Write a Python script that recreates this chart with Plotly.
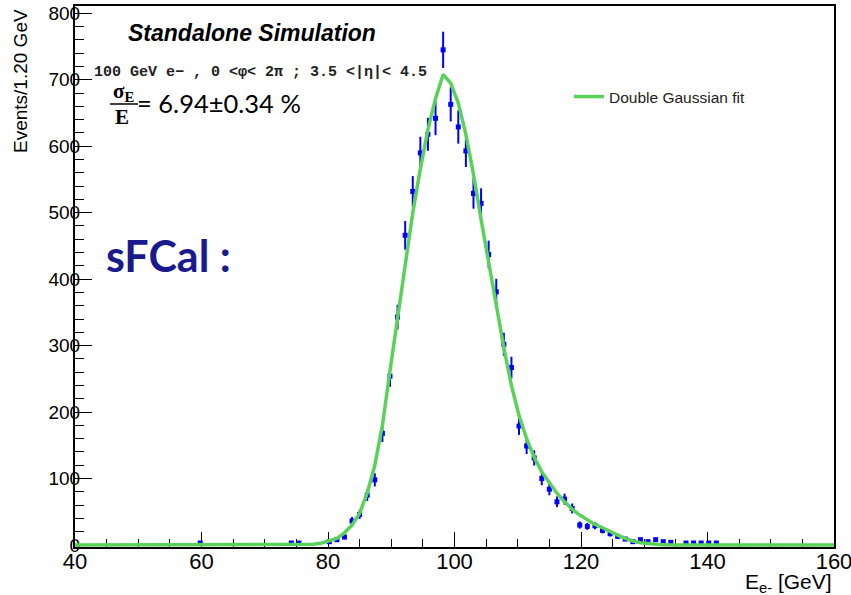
import numpy as np
import plotly.graph_objects as go

# ---------------- data ----------------
bin_centers = [59.8, 74.2, 75.4, 80.2, 81.4, 82.6, 83.8, 85.0, 86.2, 87.4, 88.6, 89.8,
               91.0, 92.2, 93.4, 94.6, 95.8, 97.0, 98.2, 99.4, 100.6, 101.8, 103.0,
               104.2, 105.4, 106.6, 107.8, 109.0, 110.2, 111.4, 112.6, 113.8, 115.0,
               116.2, 117.4, 118.6, 119.8, 121.0, 122.2, 123.4, 124.6, 125.8, 127.0,
               128.2, 129.4, 130.6, 131.8, 133.0, 134.2, 136.6, 137.8, 139.0, 140.2, 141.4]
counts = [3, 3, 3, 5, 8, 12, 36, 46, 75, 98, 168, 254,
          343, 466, 532, 590, 618, 642, 745, 663, 629, 593, 529,
          514, 437, 381, 302, 267, 179, 149, 131, 100, 84,
          65, 69, 55, 30, 28, 29, 22, 17, 13, 9,
          5, 8, 5, 8, 5, 4, 3, 3, 3, 3, 3]

fit_x = [40.0, 76.6, 77.8, 79.0, 80.2, 81.4, 82.6, 83.8, 85.0, 86.2, 87.4, 88.6, 89.8,
         91.0, 92.2, 93.4, 94.6, 95.8, 97.0, 98.2, 99.4, 100.6, 101.8, 103.0, 104.2,
         105.4, 106.6, 107.8, 109.0, 110.2, 111.4, 112.6, 113.8, 115.0, 116.2, 117.4,
         118.6, 119.8, 121.0, 122.2, 123.4, 124.6, 125.8, 127.0, 128.2, 129.4, 130.6,
         131.8, 133.0, 134.2, 160.0]
fit_y = [0, 0, 1, 3, 6, 10, 18, 30, 48, 78, 120, 180, 262,
         342, 425, 500, 566, 625, 672, 708, 695, 665, 618, 558, 490,
         425, 362, 297, 240, 195, 160, 132, 110, 94, 78, 65,
         54, 45, 38, 31, 26, 20, 15, 10, 6, 3.5, 2,
         1, 0.5, 0, 0]

x_ticks = [40, 60, 80, 100, 120, 140, 160]
y_ticks = [0, 100, 200, 300, 400, 500, 600, 700, 800]

# ---------------- layout geometry ----------------
W, H = 851, 595
L, R, T, B = 75, 17, 6, 48
PW, PH = W - L - R, H - T - B


def fx(p):
    return (p - L) / PW


def fy(p):
    return (H - B - p) / PH


BLUE = "#0000ff"
GREEN = "#5ad25a"
SANS = "Liberation Sans, Arial, sans-serif"

fig = go.Figure()
fig.add_trace(go.Scatter(
    x=bin_centers, y=counts, mode="markers",
    marker=dict(symbol="square", size=5, color=BLUE),
    error_y=dict(type="data", array=np.sqrt(np.array(counts, dtype=float)),
                 thickness=2, width=0, color=BLUE),
    showlegend=False, cliponaxis=True, hoverinfo="skip"))
fig.add_trace(go.Scatter(
    x=fit_x, y=fit_y, mode="lines", name="Double Gaussian fit",
    line=dict(color=GREEN, width=3.5), hoverinfo="skip"))

axis_common = dict(showgrid=False, zeroline=False, showline=True, linecolor="black",
                   linewidth=2, mirror=True, ticks="inside", tickcolor="black",
                   tickwidth=1, layer="below traces", automargin=False)

fig.update_xaxes(range=[40, 160], tickvals=x_ticks, ticklen=15, ticklabelstandoff=-6,
                 ticklabeloverflow="allow",
                 tickfont=dict(family=SANS, size=22, color="black"),
                 minor=dict(dtick=5, tick0=40, ticks="inside", ticklen=8, tickcolor="black"),
                 **axis_common)
fig.update_yaxes(range=[-3, 811], tickvals=y_ticks, ticklen=17, ticklabelstandoff=-11,
                 tickfont=dict(family=SANS, size=19, color="black"),
                 minor=dict(dtick=20, tick0=0, ticks="inside", ticklen=9, tickcolor="black"),
                 **axis_common)

ann = []
ann.append(dict(text="<b><i>Standalone Simulation</i></b>", x=fx(126), y=fy(33),
                xanchor="left", yanchor="middle",
                font=dict(family=SANS, size=23, color="black")))
ann.append(dict(text="<b>100 GeV e− , 0 <φ< 2π ; 3.5 <|η|< 4.5</b>", x=fx(92), y=fy(72),
                xanchor="left", yanchor="middle",
                font=dict(family="Liberation Mono, monospace", size=15, color="#222222")))
ann.append(dict(text="<b>σ<sub>E</sub></b>", x=fx(123), y=fy(92),
                xanchor="center", yanchor="middle",
                font=dict(family="Liberation Serif, serif", size=21, color="black")))
ann.append(dict(text="<b>E</b>", x=fx(122), y=fy(117),
                xanchor="center", yanchor="middle",
                font=dict(family="Liberation Serif, serif", size=21, color="black")))
ann.append(dict(text="= 6.94±0.34 %", x=fx(135), y=fy(103),
                xanchor="left", yanchor="middle",
                font=dict(family="Lato, sans-serif", size=25.5, color="black")))
ann.append(dict(text="<b>sFCal :</b>", x=fx(104), y=fy(255),
                xanchor="left", yanchor="middle",
                font=dict(family="Lato, sans-serif", size=43, color="#1a1a8c")))
ann.append(dict(text="Events/1.20 GeV", x=fx(20), y=fy(7), textangle=-90,
                xanchor="center", yanchor="top",
                font=dict(family=SANS, size=19, color="black")))
ann.append(dict(text="E<sub>e-</sub> [GeV]", x=fx(834), y=fy(583),
                xanchor="right", yanchor="middle",
                font=dict(family=SANS, size=21, color="black")))
for a in ann:
    a.update(xref="paper", yref="paper", showarrow=False)

fig.update_layout(
    width=W, height=H, margin=dict(l=L, r=R, t=T, b=B, autoexpand=False),
    paper_bgcolor="white", plot_bgcolor="white",
    annotations=ann,
    shapes=[dict(type="line", xref="paper", yref="paper", x0=fx(110), x1=fx(138),
                 y0=fy(104), y1=fy(104), line=dict(color="black", width=1.5))],
    legend=dict(x=fx(569), y=fy(97), xanchor="left", yanchor="middle",
                bgcolor="rgba(0,0,0,0)", font=dict(family=SANS, size=15.5, color="#222222")),
    showlegend=True,
)

fig.write_html("out.html", config={"displayModeBar": False},
               post_script="document.body.style.margin='0';document.body.style.overflow='hidden';")
